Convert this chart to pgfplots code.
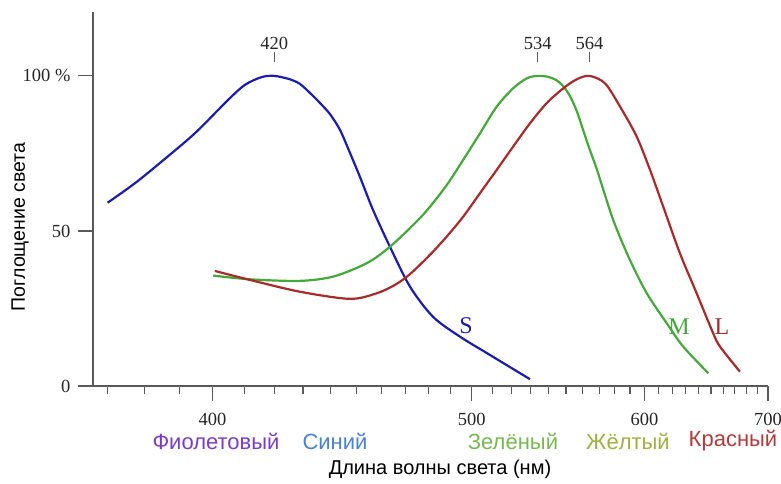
\documentclass[border=0pt]{standalone}
\usepackage{pgfplots}
\pgfplotsset{compat=1.18}
\usepackage{fontspec}
\setmainfont{Liberation Serif}
\setsansfont{Liberation Sans}
\definecolor{axisgray}{HTML}{5A5A5A}
\definecolor{cS}{HTML}{1C1CB0}
\definecolor{cM}{HTML}{45A83A}
\definecolor{cL}{HTML}{A82A2A}
\definecolor{tViolet}{HTML}{7A3CC8}
\definecolor{tBlue}{HTML}{4A80D8}
\definecolor{tGreen}{HTML}{78B850}
\definecolor{tYellow}{HTML}{A0B040}
\definecolor{tRed}{HTML}{B43A3A}
\begin{document}
\begin{tikzpicture}
\useasboundingbox (0,0) rectangle (781pt,-484pt);
\begin{axis}[
  at={(93pt,-386pt)}, anchor=south west,
  scale only axis, width=675pt, height=374pt,
  x coord trafo/.code={\pgfmathparse{-1000/#1}},
  x coord inv trafo/.code={\pgfmathparse{-1000/#1}},
  xmin=366.2, xmax=700, ymin=0, ymax=120.6,
  axis lines=left,
  axis line style={axisgray, line width=1.4pt, -},
  tick align=outside, major tick length=15pt, minor tick length=8pt,
  xtick={400,500,600,700}, xticklabels={400,500,600,700},
  minor xtick={370,380,390,410,420,430,440,450,460,470,480,490,510,520,530,540,550,560,570,580,590,610,620,630,640,650,660,670,680,690},
  ytick={0,50,100}, yticklabels={0,50,100 \%},
  tick style={axisgray, line width=1.2pt},
  xticklabel style={font=\fontsize{18.5}{20}\selectfont, text=black!85, inner sep=0.5pt, yshift=-11pt},
  yticklabel style={font=\fontsize{18.5}{20}\selectfont, text=black!85, xshift=-4pt},
  clip=false,
]
\addplot[cS, line width=2.2pt, smooth] coordinates {
(370.0,59.1) (377.4,65.4) (384.9,72.4) (394.6,81.5) (404.9,92.3) (410.2,97.1)
(415.7,99.6) (420,100) (425.4,98.9) (428.9,97.4) (432.5,94.5) (436.1,91.3)
(439.8,87.7) (443.6,82.6) (447.4,75.2) (451.3,67.4) (456.5,56.8) (463.4,44.9)
(471.9,32.0) (482.0,22.3) (494.4,15.9) (507.4,10.6) (529.7,2.2)};
\addplot[cM, line width=2.2pt, smooth] coordinates {
(400.2,35.6) (411.9,34.4) (428.9,33.9) (441.1,35.3) (454.0,39.6) (463.4,44.9)
(474.7,53.0) (480.6,57.8) (488.2,64.8) (495.9,72.9) (504.0,81.5) (512.3,90.1)
(520.8,96.0) (528,99.2) (534,100) (539.6,99.7) (544.2,98.7) (548.2,96.8)
(552.3,93.5) (556.5,88.4) (560.1,82.6) (564.3,76.1) (568.7,69.7)
(579.0,53.5) (590.0,40.6) (601.5,29.9) (615.8,20.2) (628.1,12.7) (647.8,4.1)};
\addplot[cL, line width=2.2pt, smooth] coordinates {
(400.7,37.1) (411.9,34.2) (428.9,30.4) (447.4,28.1) (458.0,29.9) (465.5,32.6)
(471.9,36.1) (480.6,42.3) (488.2,48.2) (495.9,54.6) (504.0,62.2) (512.3,69.7)
(520.8,77.2) (529.7,84.7) (538.9,91.2) (548.4,96.0) (556.3,98.9) (564,100)
(573.7,97.6) (583.4,90.1) (594.6,80.4) (603.8,69.7) (613.3,57.8) (625.6,42.8)
(638.5,29.9) (651.8,17.0) (657.4,12.7) (674.5,4.6)};
\foreach \p in {420,534,564}{
  \edef\tmp{\noexpand\draw[axisgray, line width=1pt] (axis cs:\p,104.5) -- (axis cs:\p,107.7);
  \noexpand\node[font=\noexpand\fontsize{18.5}{20}\noexpand\selectfont, text=black!85] at (axis cs:\p,110.4) {\p};}
  \tmp
}
\node[font=\fontsize{24}{26}\selectfont, text=cS] at (axis cs:497.2,19.4) {S};
\node[font=\fontsize{24}{26}\selectfont, text=cM] at (axis cs:624.9,19.0) {M};
\node[font=\fontsize{24}{26}\selectfont, text=cL] at (axis cs:659.0,19.0) {L};
\end{axis}
\node[rotate=90, font=\sffamily\fontsize{19.5}{22}\selectfont] at (20pt,-227pt) {Поглощение света};
\begin{scope}[every node/.style={font=\sffamily\fontsize{22}{24}\selectfont, inner sep=0.5pt}]
\node[text=tViolet] at (216pt,-441pt) {Фиолетовый};
\node[text=tBlue] at (335pt,-441pt) {Синий};
\node[text=tGreen] at (513pt,-441pt) {Зелёный};
\node[text=tYellow] at (628pt,-441pt) {Жёлтый};
\node[text=tRed] at (733pt,-441pt) {Красный};
\end{scope}
\node[font=\sffamily\fontsize{20}{22}\selectfont] at (440pt,-469pt) {Длина волны света (нм)};
\end{tikzpicture}
\end{document}
